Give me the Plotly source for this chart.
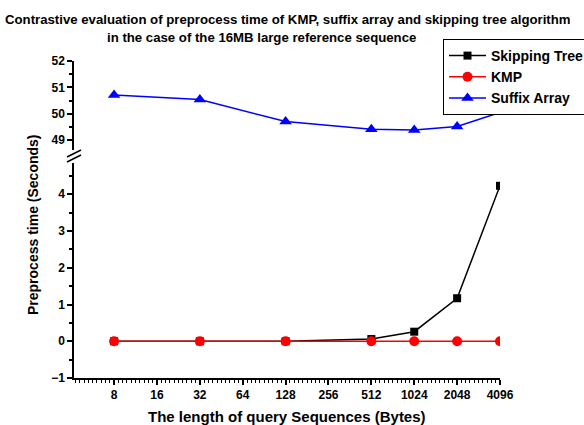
import plotly.graph_objects as go

# ---- data ----
query_len = [8, 32, 128, 512, 1024, 2048, 4096]
skipping_tree = [0.0, 0.0, 0.0, 0.06, 0.26, 1.17, 4.23]
kmp = [0.0, 0.0, 0.0, 0.0, 0.0, 0.0, 0.0]
suffix_array = [50.71, 50.54, 49.70, 49.41, 49.38, 49.51, 50.05]

x_ticks = [8, 16, 32, 64, 128, 256, 512, 1024, 2048, 4096]
x_ticktext = [str(v) for v in x_ticks]
minor_x = [2 ** (n / 10) for n in range(21, 121) if n % 10 != 0]

FONT = "Liberation Sans, Arial, sans-serif"
W, H = 584, 425
L, R, T, B = 74, 84, 61, 47
PW, PH = W - L - R, H - T - B


def px(xp):
    return (xp - L) / PW


def py(yp):
    return (H - B - yp) / PH


fig = go.Figure()
fig.add_trace(go.Scatter(x=query_len, y=skipping_tree, name="Skipping Tree", mode="lines+markers",
                         line=dict(color="black", width=1.5),
                         marker=dict(symbol="square", size=8, color="black"),
                         xaxis="x", yaxis="y"))
fig.add_trace(go.Scatter(x=query_len, y=kmp, name="KMP", mode="lines+markers",
                         line=dict(color="red", width=1.5),
                         marker=dict(symbol="circle", size=10, color="red"),
                         xaxis="x", yaxis="y"))
fig.add_trace(go.Scatter(x=query_len, y=suffix_array, name="Suffix Array", mode="lines+markers",
                         line=dict(color="blue", width=1.5),
                         marker=dict(symbol="triangle-up", size=11, color="blue"),
                         xaxis="x", yaxis="y2"))

axis_common = dict(showline=True, linecolor="black", linewidth=1.5, ticks="outside",
                   tickcolor="black", tickwidth=1.5, ticklen=5, showgrid=False, zeroline=False,
                   tickfont=dict(family=FONT, size=12, color="black", weight="bold"))

fig.update_layout(
    width=W, height=H,
    margin=dict(l=L, r=R, t=T, b=B, autoexpand=False),
    paper_bgcolor="white", plot_bgcolor="white",
    showlegend=True,
    legend=dict(x=px(443), y=py(39), xanchor="left", yanchor="top",
                bordercolor="black", borderwidth=1, bgcolor="white",
                font=dict(family=FONT, size=14, color="black", weight="bold"),
                itemwidth=37, tracegroupgap=0),
    xaxis=dict(type="log", range=[0.6216, 3.6124], tickmode="array", tickvals=x_ticks,
               ticktext=x_ticktext, anchor="y",
               minor=dict(tickmode="array", tickvals=minor_x, ticks="outside", ticklen=3,
                          tickcolor="black", tickwidth=1, showgrid=False),
               **axis_common),
    yaxis=dict(domain=[0, py(163)], range=[-1, 4.85], tickmode="linear", tick0=0, dtick=1,
               anchor="x",
               minor=dict(dtick=0.5, ticks="outside", ticklen=3, tickcolor="black",
                          tickwidth=1.5, showgrid=False),
               **axis_common),
    yaxis2=dict(domain=[py(150), 1], range=[48.62, 52], tickmode="array",
                tickvals=[49, 50, 51, 52], anchor="x",
                minor=dict(tickmode="array", tickvals=[49.5, 50.5, 51.5], ticks="outside",
                           ticklen=3, tickcolor="black", tickwidth=1.5, showgrid=False),
                **axis_common),
)

# axis-break slashes
for y0 in (157, 162):
    fig.add_shape(type="line", xref="paper", yref="paper",
                  x0=px(67), y0=py(y0), x1=px(81), y1=py(y0 - 7),
                  line=dict(color="black", width=1.5))

# titles
fig.add_annotation(text="Contrastive evaluation of preprocess time of KMP, suffix array and skipping tree algorithm",
                   xref="paper", yref="paper", x=px(288), y=py(20), xanchor="center", yanchor="middle",
                   showarrow=False, font=dict(family=FONT, size=13.2, color="black", weight="bold"))
fig.add_annotation(text="in the case of the 16MB large reference sequence",
                   xref="paper", yref="paper", x=px(261), y=py(37), xanchor="center", yanchor="middle",
                   showarrow=False, font=dict(family=FONT, size=13.2, color="black", weight="bold"))
fig.add_annotation(text="Preprocess time (Seconds)", textangle=-90,
                   xref="paper", yref="paper", x=px(33), y=py(225), xanchor="center", yanchor="middle",
                   showarrow=False, font=dict(family=FONT, size=14, color="black", weight="bold"))
fig.add_annotation(text="The length of query Sequences (Bytes)",
                   xref="paper", yref="paper", x=px(287), y=py(417), xanchor="center", yanchor="middle",
                   showarrow=False, font=dict(family=FONT, size=15, color="black", weight="bold"))

fig.write_html("out.html")
